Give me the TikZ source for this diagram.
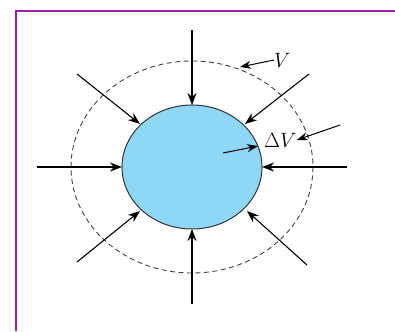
\documentclass[tikz,border=0pt]{standalone}
\usetikzlibrary{arrows.meta}
\definecolor{framepurple}{RGB}{160,30,170}
\definecolor{bubbleblue}{RGB}{142,215,245}
\tikzset{
  push/.style={-{Stealth[length=12pt,width=9pt]},line width=1.1pt},
  lead/.style={-{Stealth[length=11pt,width=8pt]},line width=1pt},
  lbl/.style={font=\huge,inner sep=0pt}
}
\begin{document}
\begin{tikzpicture}[x=1pt,y=-1pt]
\useasboundingbox (0,0) rectangle (395,331);

% frame
\draw[framepurple,line width=2pt] (395,11) -- (15.5,11) -- (15.5,331);

% control volume and bubble
\draw[dash pattern=on 5pt off 3.5pt,line width=0.9pt,gray!50!black] (192,167) ellipse [x radius=121, y radius=106];
\filldraw[fill=bubbleblue,draw=black!80,line width=1pt] (192,167) ellipse [x radius=70, y radius=62];

% pressure arrows
\draw[push] (192,30) -- (192,105);
\draw[push] (192,304) -- (192,229);
\draw[push] (37,167) -- (122,167);
\draw[push] (347,167) -- (262,167);
\draw[push] (77,74) -- (140,124);
\draw[push] (309,74) -- (245,124);
\draw[push] (77,262) -- (140,211);
\draw[push] (307,265) -- (247,211);

% labels
\node[lbl,anchor=west] (V) at (274,60) {$V$};
\node[lbl,anchor=west] (dV) at (264,140) {$\Delta V$};
\draw[lead] (V.west) -- (240,67);
\draw[lead] (340,125) -- (dV.east);
\draw[lead] (223,153) -- (258,146);

\end{tikzpicture}
\end{document}
